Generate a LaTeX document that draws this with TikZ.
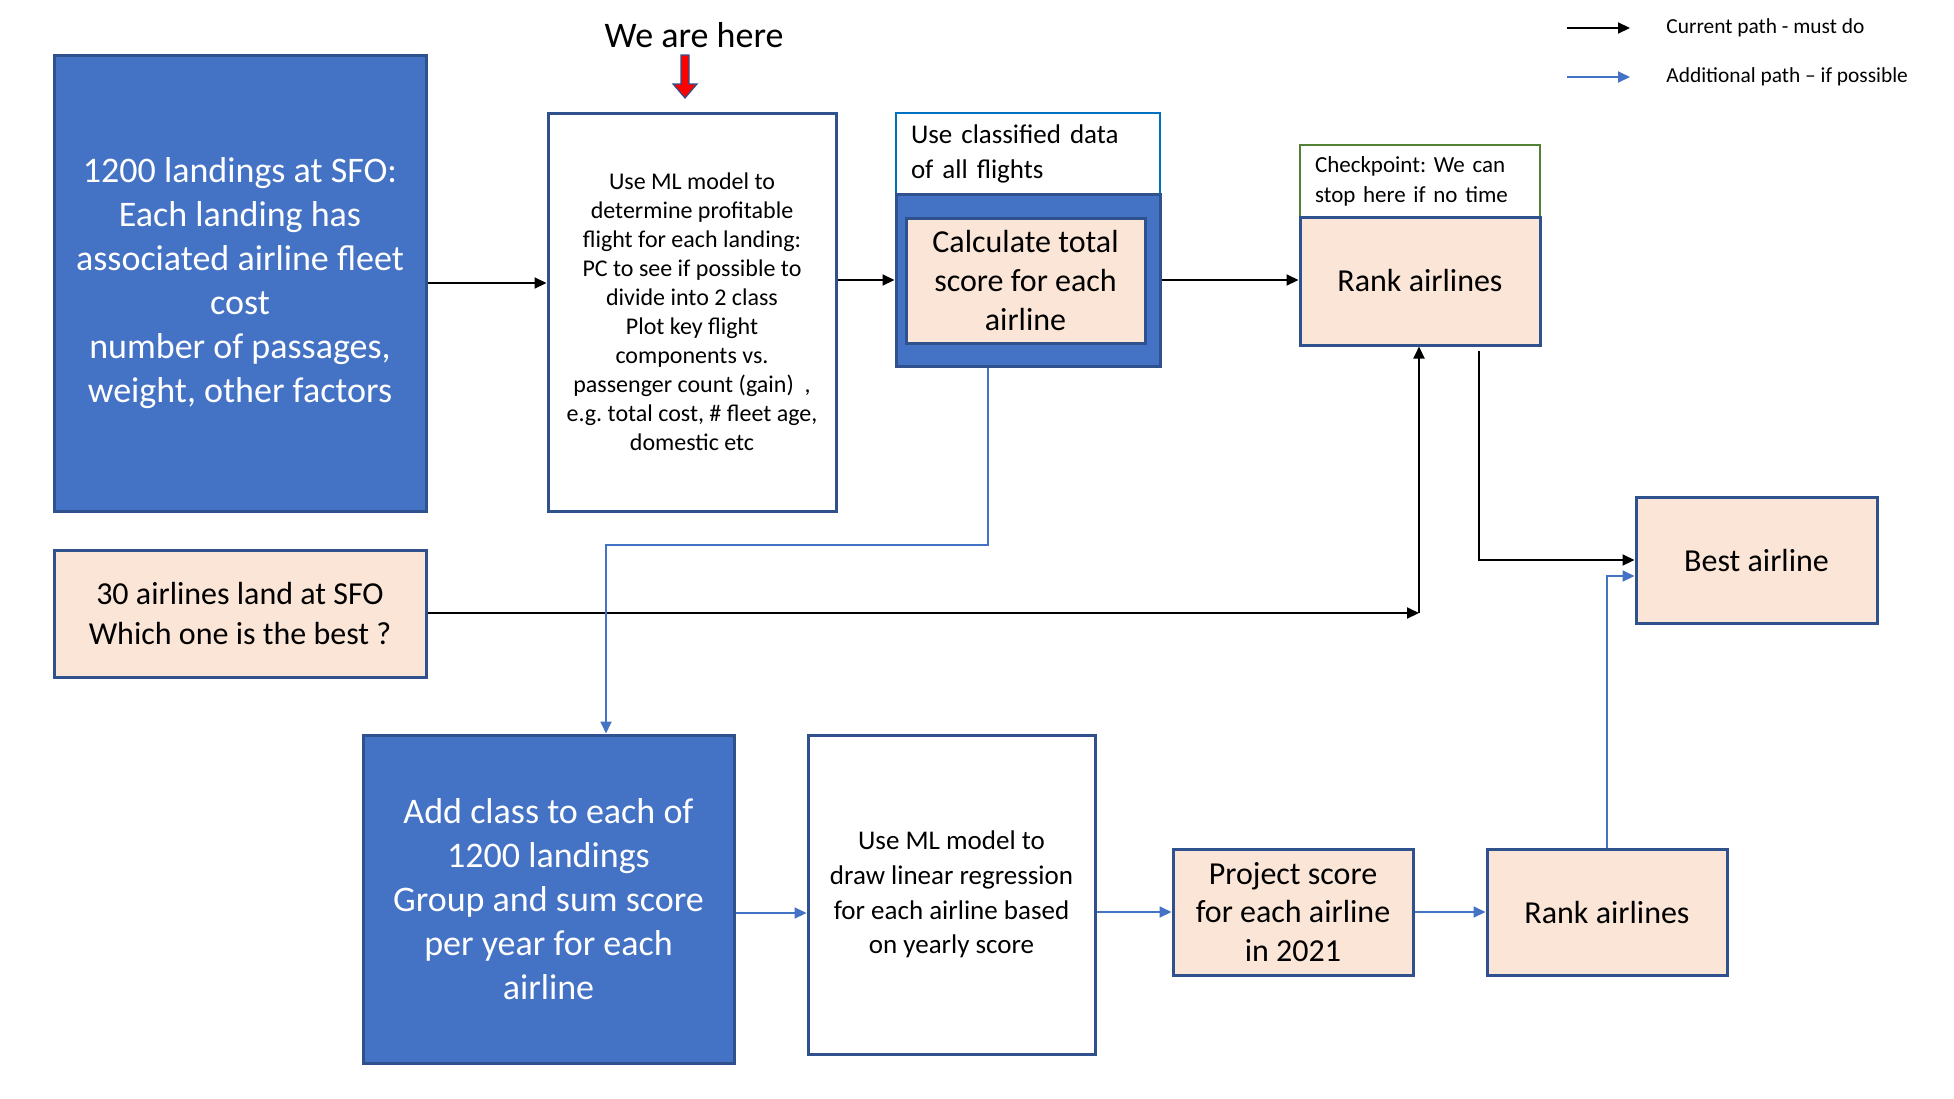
\documentclass[tikz,border=0pt]{standalone}
\usepackage{fontspec}
\setmainfont{Carlito}
\usetikzlibrary{arrows.meta}
\definecolor{obl}{HTML}{4472C4}
\definecolor{dbl}{HTML}{2F528F}
\definecolor{peach}{HTML}{FBE5D6}
\definecolor{lbl}{HTML}{0070C0}
\definecolor{grn}{HTML}{548235}
\frenchspacing
\begin{document}
\begin{tikzpicture}[x=0.5pt,y=-0.5pt,
 box/.style={draw=dbl, line width=1.5pt, inner sep=0pt, align=center},
 bluebox/.style={box, fill=obl, text=white},
 peachbox/.style={box, fill=peach},
 whitebox/.style={box, fill=white},
 bigtxt/.style={font=\fontsize{18}{22}\selectfont},
 midtxt/.style={font=\fontsize{16}{19.3}\selectfont},
 arr/.style={draw=black, line width=1pt, -{Triangle[length=6pt,width=5.5pt]}},
 barr/.style={draw=obl, line width=0.9pt, -{Triangle[length=6pt,width=5.5pt]}},
 ]
\useasboundingbox[fill=white] (0,0) rectangle (1954,1098);

% title and red pointer
\node[bigtxt] (here) at (694,35) {We are here};
\draw[draw=dbl, fill=red, line width=0.6pt] (681,55) -- (689,55) -- (689,84) -- (697,84) -- (685,98) -- (673,84) -- (681,84) -- cycle;

% legend
\coordinate (la) at (1567,28); \coordinate (lb) at (1630,28);
\coordinate (lc) at (1567,77); \coordinate (ld) at (1630,77);
\draw[arr] (la) -- (lb);
\draw[barr] (lc) -- (ld);
\node[anchor=west, inner sep=0pt, font=\fontsize{10.7}{13}\selectfont] (lt1) at (1666,28) {Current path - must do};
\node[anchor=west, inner sep=0pt, font=\fontsize{10.7}{13}\selectfont] (lt2) at (1666,77) {Additional path – if possible};

% boxes
\node[bluebox, bigtxt, minimum width=186pt, minimum height=228pt] (land) at (240,283)
 {1200 landings at SFO:\\Each landing has\\associated airline fleet\\cost\\number of passages,\\weight, other factors};
\node[whitebox, font=\fontsize{12}{14.5}\selectfont, minimum width=144pt, minimum height=199pt] (ml1) at (692,312)
 {Use ML model to\\determine profitable\\flight for each landing:\\PC to see if possible to\\divide into 2 class\\Plot key flight\\components vs.\\passenger count (gain)\ \ ,\\e.g. total cost, \# fleet age,\\domestic etc};
\node[draw=lbl, line width=1pt, fill=white, text width=117pt, inner xsep=7.5pt, inner ysep=2pt, minimum height=40.5pt, align=left, font=\fontsize{13.5}{17.5}\selectfont] (usec) at (1028,153.5)
 {Use classified data\\of all flights};
\node[bluebox, minimum width=132pt, minimum height=86pt] (calcout) at (1028,280) {};
\node[peachbox, midtxt, minimum width=119.5pt, minimum height=62.5pt] (calc) at (1025.5,280.5)
 {Calculate total\\score for each\\airline};
\node[draw=grn, line width=1pt, fill=white, text width=105pt, inner xsep=7.5pt, inner ysep=2pt, minimum height=36pt, align=left, font=\fontsize{11.5}{15}\selectfont] (chk) at (1420,181)
 {Checkpoint: We can\\stop here if no time};
\node[peachbox, midtxt, minimum width=120pt, minimum height=64pt] (rank1) at (1420,281) {Rank airlines};
\node[peachbox, midtxt, minimum width=120.5pt, minimum height=63pt] (best) at (1756.5,560) {Best airline};
\node[peachbox, font=\fontsize{16}{20}\selectfont, minimum width=186pt, minimum height=63.5pt] (thirty) at (240,613.5)
 {30 airlines land at SFO\\Which one is the best ?};
\node[bluebox, bigtxt, minimum width=185.5pt, minimum height=164pt] (addc) at (548.5,899)
 {Add class to each of\\1200 landings\\Group and sum score\\per year for each\\airline};
\node[whitebox, font=\fontsize{13.5}{17.3}\selectfont, minimum width=143.5pt, minimum height=159.5pt] (ml2) at (951.5,894.5)
 {Use ML model to\\draw linear regression\\for each airline based\\on yearly score};
\node[peachbox, midtxt, minimum width=120pt, minimum height=63pt] (proj) at (1293,912)
 {Project score\\for each airline\\in 2021};
\node[peachbox, midtxt, minimum width=120pt, minimum height=63pt] (rank2) at (1607,912) {Rank airlines};

% connectors
\draw[arr] (land.east) -- (land.east -| ml1.west);
\draw[arr] (ml1.east |- calcout.west) -- (calcout.west);
\draw[arr] (calcout.east) -- (calcout.east -| rank1.west);
\coordinate (j1) at (1419,613);
\draw[arr] (thirty.east |- j1) -- (j1);
\draw[arr] (j1) -- (j1 |- rank1.south);
\coordinate (j2) at (1479,351);
\draw[arr] (j2) |- (best.west);
\coordinate (j3) at (988,545);
\coordinate (j4) at (606,545);
\draw[barr] (calcout.south -| j3) |- (j4) -- (j4 |- addc.north);
\draw[barr] ([yshift=-7pt]addc.east) -- ([yshift=-7pt]addc.east -| ml2.west);
\draw[barr] (ml2.east |- proj.west) -- (proj.west);
\draw[barr] (proj.east) -- (rank2.west);
\draw[barr] (rank2.north) |- ([yshift=-8pt]best.west);
\end{tikzpicture}
\end{document}
